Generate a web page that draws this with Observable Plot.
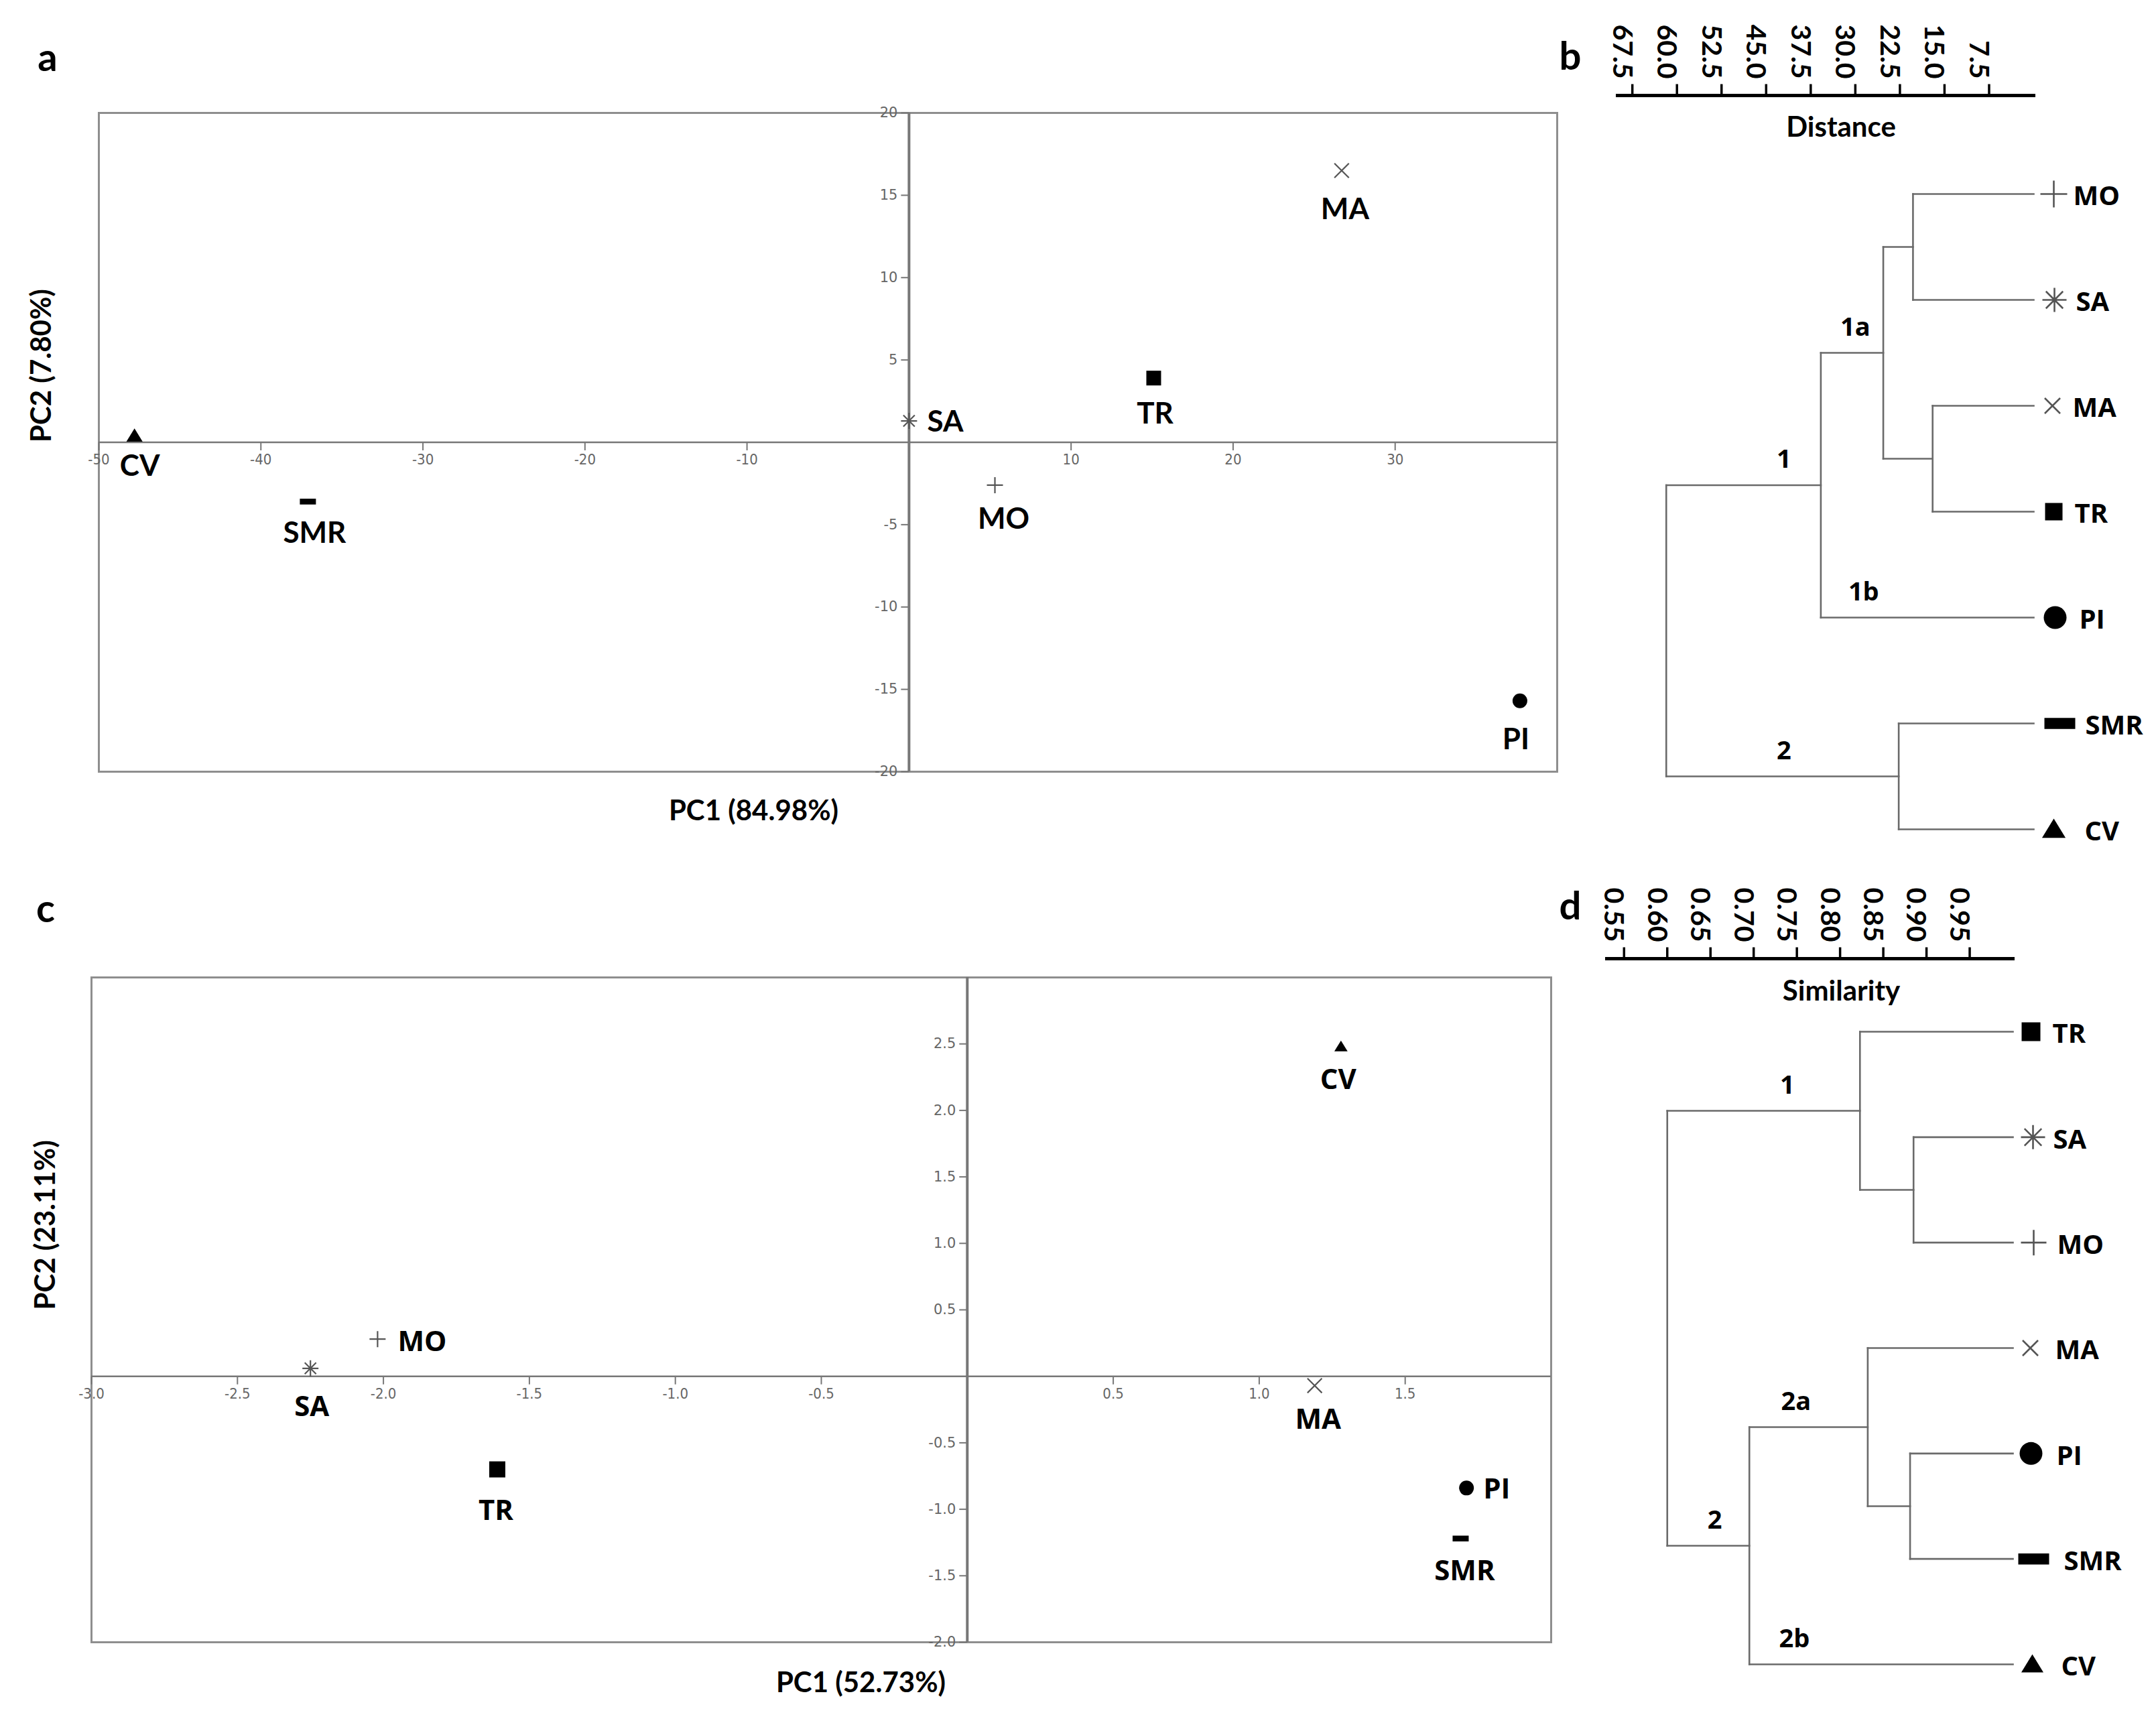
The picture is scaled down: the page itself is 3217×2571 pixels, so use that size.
<!DOCTYPE html>
<html>
<head>
<meta charset="utf-8">
<script src="https://cdn.jsdelivr.net/npm/d3@7"></script>
<script src="https://cdn.jsdelivr.net/npm/@observablehq/plot@0.6"></script>
<style>
html, body { margin: 0; padding: 0; background: #fff; }
#fig { position: relative; width: 3217px; height: 2571px; overflow: hidden; background: #fff; }
.panel { position: absolute; }
.panel svg { overflow: visible; display: block; }
.letter { position: absolute; font-family: Lato, "Open Sans", sans-serif; font-weight: 700; font-size: 58px; line-height: 1; transform: translate(-50%, -50%); }
</style>
</head>
<body>
<div id="fig"></div>
<script>
// ---------------- DATA ----------------
const samples = ["CV", "SMR", "SA", "MO", "TR", "MA", "PI"];

// panel a : PCA (PC1 84.98 %, PC2 7.80 %)
const pcaA_PC1 = [-47.8, -37.1, 0.0, 5.3, 15.1, 26.7, 37.7];
const pcaA_PC2 = [0.4, -3.6, 1.3, -2.6, 3.9, 16.5, -15.7];
const aTicksX = [-50, -40, -30, -20, -10, 10, 20, 30];
const aTicksY = [20, 15, 10, 5, -5, -10, -15, -20];

// panel c : PCA (PC1 52.73 %, PC2 23.11 %)
const pcaC_PC1 = [1.28, 1.69, -2.25, -2.02, -1.61, 1.19, 1.71];
const pcaC_PC2 = [2.48, -1.22, 0.06, 0.28, -0.70, -0.07, -0.84];
const cTicksX = [-3.0, -2.5, -2.0, -1.5, -1.0, -0.5, 0.5, 1.0, 1.5];
const cTicksY = [2.5, 2.0, 1.5, 1.0, 0.5, -0.5, -1.0, -1.5, -2.0];

// panel b : dendrogram (Distance)
const bLeaves = ["MO", "SA", "MA", "TR", "PI", "SMR", "CV"];
const bNodeIds = ["b1", "b2", "b3", "b4", "b5", "b6"];
const bJoinA = ["MO", "MA", "b1", "b3", "SMR", "b4"];
const bJoinB = ["SA", "TR", "b2", "PI", "CV", "b5"];
const bDistance = [20.3, 17.0, 25.3, 35.8, 22.7, 61.8];
const bTicks = [67.5, 60.0, 52.5, 45.0, 37.5, 30.0, 22.5, 15.0, 7.5];
const bClusterText = ["1a", "1", "1b", "2"];
const bClusterNode = ["b3", "b4", "PI", "b5"];
const bClusterAt = [30.0, 42.0, 28.6, 42.0];

// panel d : dendrogram (Similarity)
const dLeaves = ["TR", "SA", "MO", "MA", "PI", "SMR", "CV"];
const dNodeIds = ["d1", "d2", "d3", "d4", "d5", "d6"];
const dJoinA = ["SA", "TR", "PI", "MA", "d4", "d2"];
const dJoinB = ["MO", "d1", "SMR", "d3", "CV", "d5"];
const dSimilarity = [0.885, 0.823, 0.881, 0.832, 0.695, 0.600];
const dTicks = [0.55, 0.60, 0.65, 0.70, 0.75, 0.80, 0.85, 0.90, 0.95];
const dClusterText = ["1", "2a", "2", "2b"];
const dClusterNode = ["d2", "d4", "d5", "CV"];
const dClusterAt = [0.739, 0.749, 0.655, 0.747];

// ---------------- STYLE ----------------
const NARROW = '"Liberation Sans Narrow", "DejaVu Sans Condensed", "Roboto", sans-serif';
const WIDE = '"DejaVu Sans", "Verdana", sans-serif';
const BOLD1 = 'Lato, "Open Sans", sans-serif';
const BOLD2 = '"Open Sans", Lato, sans-serif';

const R = s => Math.sqrt(s / Math.PI);
const SYM = {
  square: {draw(c, s) { const r = R(s); c.moveTo(-r, -r); c.lineTo(r, -r); c.lineTo(r, r); c.lineTo(-r, r); c.closePath(); }},
  circle: {draw(c, s) { const r = R(s); c.moveTo(r, 0); c.arc(0, 0, r, 0, 2 * Math.PI); c.closePath(); }},
  triangle: {draw(c, s) { const r = R(s); c.moveTo(0, -r); c.lineTo(1.1 * r, 0.8 * r); c.lineTo(-1.1 * r, 0.8 * r); c.closePath(); }},
  bar: {draw(c, s) { const r = R(s), h = 0.36 * r; c.moveTo(-r, -h); c.lineTo(r, -h); c.lineTo(r, h); c.lineTo(-r, h); c.closePath(); }},
  plus: {draw(c, s) { const r = R(s); c.moveTo(-r, 0); c.lineTo(r, 0); c.moveTo(0, -r); c.lineTo(0, r); }},
  times: {draw(c, s) { const r = R(s) * 0.72; c.moveTo(-r, -r); c.lineTo(r, r); c.moveTo(-r, r); c.lineTo(r, -r); }},
  asterisk: {draw(c, s) { const r = R(s); for (let k = 0; k < 4; k++) { const a = k * Math.PI / 4; c.moveTo(-r * Math.cos(a), -r * Math.sin(a)); c.lineTo(r * Math.cos(a), r * Math.sin(a)); } }},
  tickDown: {draw(c, s) { const r = R(s); c.moveTo(0, 0); c.lineTo(0, r); }},
  tickLeft: {draw(c, s) { const r = R(s); c.moveTo(0, 0); c.lineTo(-r, 0); }},
  tickUp: {draw(c, s) { const r = R(s); c.moveTo(0, 0); c.lineTo(0, -r); }}
};
const FILLED = new Set(["square", "circle", "triangle", "bar"]);
const markerKind = {CV: "triangle", SMR: "bar", SA: "asterisk", MO: "plus", TR: "square", MA: "times", PI: "circle"};

function markerOpts(kind, r, sw, strokeColor) {
  const filled = FILLED.has(kind);
  return {symbol: SYM[kind], r, fill: filled ? "#000" : "none", stroke: filled ? "none" : strokeColor, strokeWidth: sw};
}

// ---------------- SCATTER PANELS ----------------
function scatter(cfg) {
  const X = i => cfg.pc1[i], Y = i => cfg.pc2[i];
  const marks = [
    Plot.frame({stroke: "#8e8e8e", strokeWidth: 3}),
    Plot.ruleY([0], {stroke: "#777", strokeWidth: 2.5}),
    Plot.ruleX([0], {stroke: "#777", strokeWidth: 4}),
    Plot.dot(cfg.ticksX, {x: d => d, y: () => 0, symbol: SYM.tickDown, r: 12, stroke: "#777", strokeWidth: 2, fill: "none"}),
    Plot.dot(cfg.ticksY, {x: () => 0, y: d => d, symbol: SYM.tickLeft, r: 12, stroke: "#777", strokeWidth: 2, fill: "none"}),
    Plot.text(cfg.ticksX, {x: d => d, y: () => 0, text: cfg.fmt, dy: 26, fontSize: 22, fill: "#666", fontFamily: NARROW}),
    Plot.text(cfg.ticksY, {x: () => 0, y: d => d, text: cfg.fmt, textAnchor: "end", dx: -17, fontSize: 21, fill: "#666", fontFamily: WIDE}),
    Plot.text([cfg.xTitle], {text: d => d, frameAnchor: "bottom", dx: cfg.xTitleDx, dy: cfg.xTitleDy, fontSize: 42, fontWeight: 700, fontFamily: BOLD1}),
    Plot.text([cfg.yTitle], {text: d => d, frameAnchor: "left", dx: cfg.yTitleDx, rotate: -90, fontSize: 42, fontWeight: 700, fontFamily: BOLD1})
  ];
  samples.forEach((s, i) => {
    marks.push(Plot.dot([i], {x: X, y: Y, ...markerOpts(markerKind[s], cfg.markerR[s], 2.2, "#555")}));
    const [dx, dy, anchor] = cfg.labelOffset[s];
    marks.push(Plot.text([i], {x: X, y: Y, text: k => samples[k], dx, dy, textAnchor: anchor,
      fontSize: cfg.labelSize, fontWeight: 700, fontFamily: cfg.labelFont}));
  });
  return Plot.plot({
    width: cfg.width, height: cfg.height,
    marginLeft: cfg.margin[0], marginRight: cfg.margin[1], marginTop: cfg.margin[2], marginBottom: cfg.margin[3],
    x: {domain: cfg.xDomain, axis: null},
    y: {domain: cfg.yDomain, axis: null},
    style: {background: "transparent", overflow: "visible"},
    marks
  });
}

// ---------------- DENDROGRAM PANELS ----------------
function dendrogram(cfg) {
  const pos = new Map();
  cfg.leaves.forEach((l, i) => pos.set(l, {x: cfg.leafValue, y: i}));
  const segs = [];
  cfg.ids.forEach((id, i) => {
    const pa = pos.get(cfg.joinA[i]), pb = pos.get(cfg.joinB[i]), h = cfg.height[i];
    segs.push({x1: h, y1: pa.y, x2: h, y2: pb.y});
    segs.push({x1: h, y1: pa.y, x2: pa.x, y2: pa.y});
    segs.push({x1: h, y1: pb.y, x2: pb.x, y2: pb.y});
    pos.set(id, {x: h, y: (pa.y + pb.y) / 2});
  });
  const marks = [
    Plot.frame({anchor: "top", stroke: "#000", strokeWidth: 5}),
    Plot.dot(cfg.ticks, {x: d => d, frameAnchor: "top", symbol: SYM.tickUp, r: 17, stroke: "#000", strokeWidth: 3.5, fill: "none"}),
    Plot.text(cfg.ticks, {x: d => d, frameAnchor: "top", text: cfg.fmt, rotate: 90, textAnchor: "end", dy: -25,
      fontSize: 41, fontWeight: 700, fontFamily: BOLD1}),
    Plot.text([cfg.title], {text: d => d, frameAnchor: "top", dx: cfg.titleDx, dy: cfg.titleDy, fontSize: 42, fontWeight: 700, fontFamily: BOLD1}),
    Plot.link(segs, {x1: "x1", y1: "y1", x2: "x2", y2: "y2", stroke: "#6a6a6a", strokeWidth: 2.6, strokeLinecap: "square"}),
    Plot.text(d3.range(cfg.clusterText.length), {
      x: i => cfg.clusterAt[i], y: i => pos.get(cfg.clusterNode[i]).y, text: i => cfg.clusterText[i],
      dy: -38, fontSize: 38, fontWeight: 700, fontFamily: BOLD2})
  ];
  cfg.leaves.forEach((l, i) => {
    const [mdx, tdx, r] = cfg.leafStyle[l];
    marks.push(Plot.dot([i], {x: () => cfg.leafValue, y: k => k, dx: mdx, ...markerOpts(markerKind[l], r, 2.6, "#555")}));
    marks.push(Plot.text([i], {x: () => cfg.leafValue, y: k => k, text: k => cfg.leaves[k], dx: tdx, dy: 4, textAnchor: "start",
      fontSize: 40, fontWeight: 700, fontFamily: BOLD2}));
  });
  return Plot.plot({
    width: cfg.width, height: cfg.heightPx,
    marginLeft: cfg.margin[0], marginRight: cfg.margin[1], marginTop: cfg.margin[2], marginBottom: cfg.margin[3],
    x: {domain: cfg.domain, axis: null},
    y: {domain: [0, cfg.leaves.length - 1], reverse: true, insetTop: cfg.insetTop, axis: null},
    style: {background: "transparent", overflow: "visible"},
    marks
  });
}

// ---------------- BUILD ----------------
const fig = document.getElementById("fig");
function place(node, left, top) {
  const div = document.createElement("div");
  div.className = "panel";
  div.style.left = left + "px";
  div.style.top = top + "px";
  div.appendChild(node);
  fig.appendChild(div);
}
function letter(t, x, y) {
  const div = document.createElement("div");
  div.className = "letter";
  div.style.left = x + "px";
  div.style.top = y + "px";
  div.textContent = t;
  fig.appendChild(div);
}

place(scatter({
  pc1: pcaA_PC1, pc2: pcaA_PC2, xDomain: [-50, 40], yDomain: [-20, 20],
  ticksX: aTicksX, ticksY: aTicksY, fmt: d => String(d),
  width: 2380, height: 1290, margin: [147, 57, 168, 139],
  markerR: {CV: 11, SMR: 12, SA: 12, MO: 12, TR: 11, MA: 15, PI: 11},
  labelOffset: {CV: [8, 46, "middle"], SMR: [10, 47, "middle"], SA: [27, 2, "start"], MO: [13, 51, "middle"],
                TR: [2, 54, "middle"], MA: [5, 58, "middle"], PI: [-6, 58, "middle"]},
  labelSize: 44, labelFont: BOLD1,
  xTitle: "PC1 (84.98%)", xTitleDx: -111, xTitleDy: 72,
  yTitle: "PC2 (7.80%)", yTitleDx: -85
}), 0, 0);

place(scatter({
  pc1: pcaC_PC1, pc2: pcaC_PC2, xDomain: [-3, 2], yDomain: [-2, 3],
  ticksX: cTicksX, ticksY: cTicksY, fmt: d => d.toFixed(1),
  width: 2380, height: 1281, margin: [136, 66, 168, 121],
  markerR: {CV: 9, SMR: 12, SA: 12, MO: 12, TR: 12, MA: 15, PI: 11},
  labelOffset: {CV: [-4, 50, "middle"], SMR: [6, 49, "middle"], SA: [2, 58, "middle"], MO: [30, 4, "start"],
                TR: [-2, 62, "middle"], MA: [5, 51, "middle"], PI: [25, 2, "start"]},
  labelSize: 42, labelFont: BOLD2,
  xTitle: "PC1 (52.73%)", xTitleDx: 59, xTitleDy: 74,
  yTitle: "PC2 (23.11%)", yTitleDx: -68
}), 0, 1290);

place(dendrogram({
  leaves: bLeaves, ids: bNodeIds, joinA: bJoinA, joinB: bJoinB, height: bDistance, leafValue: 0,
  ticks: bTicks, fmt: d => d.toFixed(1), title: "Distance", titleDx: 23, titleDy: 32,
  clusterText: bClusterText, clusterNode: bClusterNode, clusterAt: bClusterAt,
  domain: [70, 0], width: 837, heightPx: 1290, margin: [33, 183, 142, 53], insetTop: 147,
  leafStyle: {MO: [30, 59, 20], SA: [31, 63, 18], MA: [28, 58, 16], TR: [30, 61, 13], PI: [32, 68, 17], SMR: [39, 77, 23], CV: [30, 76, 16]}
}), 2380, 0);

place(dendrogram({
  leaves: dLeaves, ids: dNodeIds, joinA: dJoinA, joinB: dJoinB, height: dSimilarity, leafValue: 1.0,
  ticks: dTicks, fmt: d => d.toFixed(2), title: "Similarity", titleDx: 47, titleDy: 33,
  clusterText: dClusterText, clusterNode: dClusterNode, clusterAt: dClusterAt,
  domain: [0.53, 1.0], width: 837, heightPx: 1321, margin: [17, 214, 180, 88], insetTop: 109,
  leafStyle: {TR: [27, 59, 14], SA: [30, 60, 18], MO: [31, 66, 19], MA: [26, 63, 16], PI: [27, 65, 17], SMR: [31, 76, 23], CV: [29, 72, 15]}
}), 2380, 1250);

letter("a", 71, 84);
letter("b", 2343, 82);
letter("c", 68, 1354);
letter("d", 2343, 1350);
</script>
</body>
</html>
